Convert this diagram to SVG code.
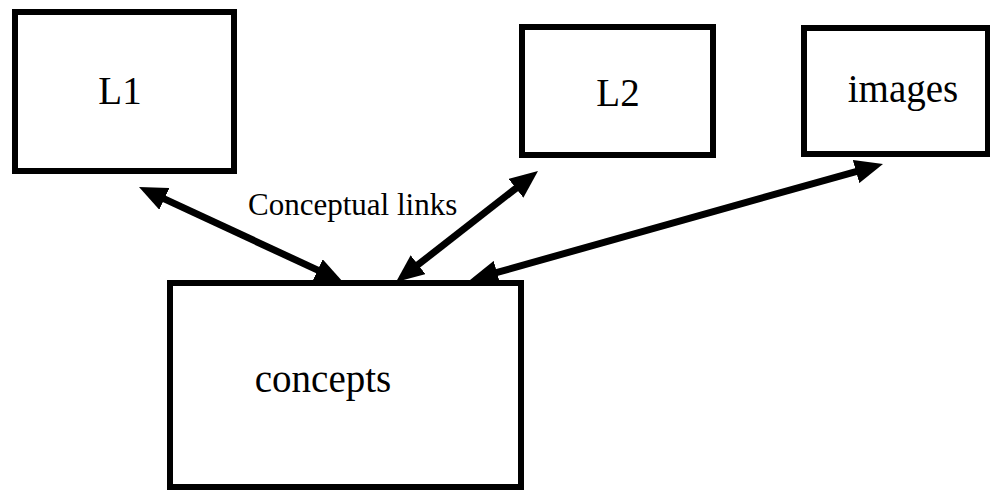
<svg xmlns="http://www.w3.org/2000/svg" width="990" height="491" viewBox="0 0 990 491">
<style>
.box{fill:#fff;stroke:#000;stroke-width:6}
.lbl{font-family:'Liberation Serif','DejaVu Serif',serif;font-size:39px;fill:#000;text-anchor:middle}
.link{stroke:#000;stroke-width:7;fill:none;marker-start:url(#ah);marker-end:url(#ah)}
.note{font-family:'Liberation Serif','DejaVu Serif',serif;font-size:31px;fill:#000}
</style>
<defs>
<marker id="ah" markerUnits="userSpaceOnUse" viewBox="0 0 28 24" refX="12" refY="12" markerWidth="28" markerHeight="24" orient="auto-start-reverse">
<path d="M0,0 L28,12 L0,24 z" fill="#000"/>
</marker>
</defs>
<rect width="990" height="491" fill="#fff"/>
<g id="L1"><rect class="box" x="15" y="12" width="219" height="159"/><text class="lbl" x="120" y="104">L1</text></g>
<g id="L2"><rect class="box" x="522" y="27" width="191" height="128"/><text class="lbl" x="618" y="106">L2</text></g>
<g id="images"><rect class="box" x="804" y="28" width="184" height="126"/><text class="lbl" x="903" y="102">images</text></g>
<g id="concepts"><rect class="box" x="170" y="283" width="351" height="204"/><text class="lbl" x="323" y="392">concepts</text></g>
<g id="connectors">
<line class="link" x1="153.5" y1="193.8" x2="328.5" y2="275.2"/>
<line class="link" x1="408.6" y1="272.1" x2="525.4" y2="180.9"/>
<line class="link" x1="485.4" y1="275.7" x2="867.6" y2="168.3"/>
<text class="note" x="248" y="215">Conceptual links</text>
</g>
</svg>
